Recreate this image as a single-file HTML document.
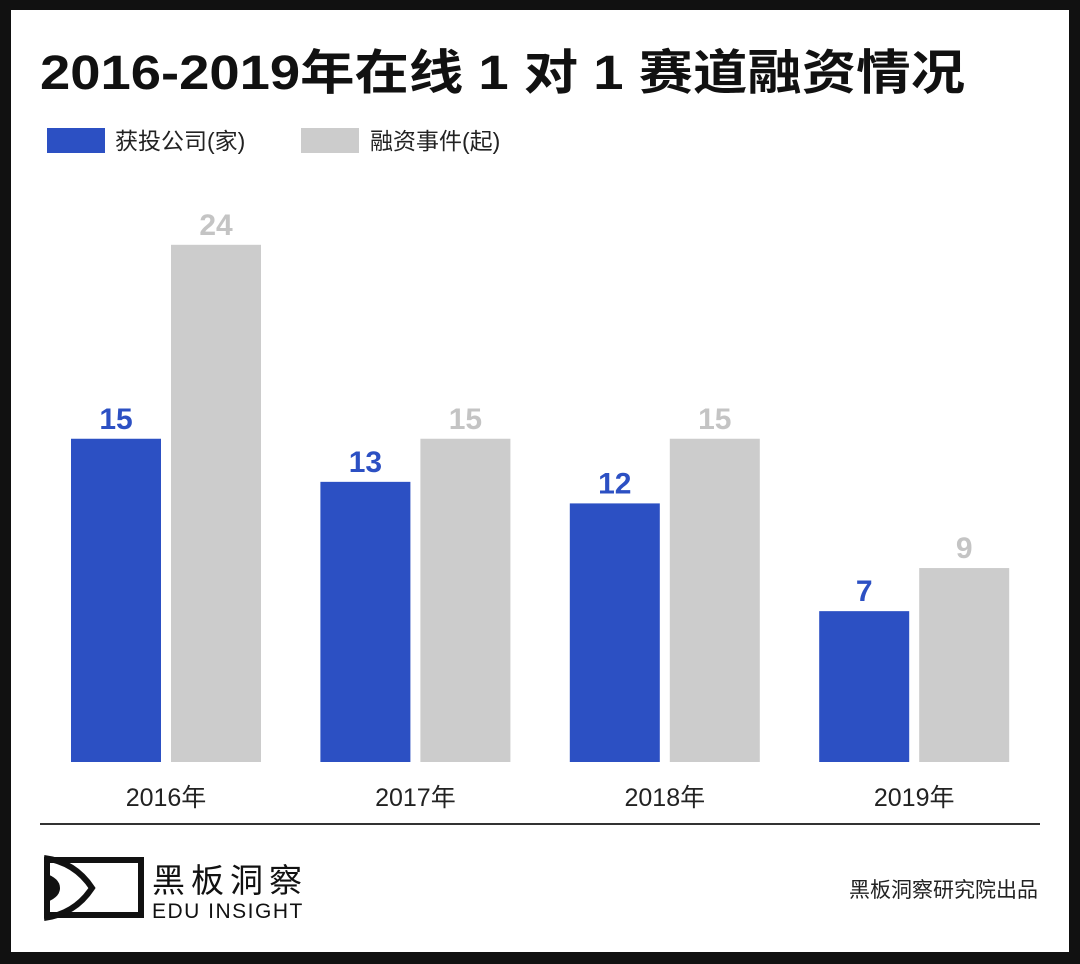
<!DOCTYPE html>
<html><head><meta charset="utf-8"><style>
body{margin:0;width:1080px;height:964px;background:#111;overflow:hidden;font-family:"Liberation Sans","Noto Sans CJK SC",sans-serif}
#card{position:absolute;left:11px;top:10px;width:1058px;height:942px;background:#fff}
</style></head><body>
<div id="card"></div>
<svg width="1080" height="964" style="position:absolute;left:0;top:0">
<text x="40" y="89" font-size="48" font-weight="bold" fill="#111" textLength="925" lengthAdjust="spacingAndGlyphs" font-family="Liberation Sans,Noto Sans CJK SC,sans-serif">2016-2019年在线 1 对 1 赛道融资情况</text>
<rect x="47" y="128" width="58" height="25" fill="#2c50c3"/>
<text x="115" y="149" font-size="23" fill="#222" font-family="Liberation Sans,Noto Sans CJK SC,sans-serif">获投公司(家)</text>
<rect x="301" y="128" width="58" height="25" fill="#cccccc"/>
<text x="370" y="149" font-size="23" fill="#222" font-family="Liberation Sans,Noto Sans CJK SC,sans-serif">融资事件(起)</text>
<g id="bars"></g>
<line x1="40" y1="824" x2="1040" y2="824" stroke="#333" stroke-width="2"/>
<g>
<rect x="47" y="860" width="94" height="55" fill="none" stroke="#111" stroke-width="6"/>
<path d="M44 858 Q75 862 92 888 Q75 914 44 918" fill="none" stroke="#111" stroke-width="6"/>
<path d="M44 873 Q60 878 60 888 Q60 898 44 903Z" fill="#111"/>
<rect x="40" y="855" width="4" height="65" fill="#fff"/>
<text x="152" y="892" font-size="33" fill="#111" letter-spacing="6" font-family="Liberation Sans,Noto Sans CJK SC,sans-serif">黑板洞察</text>
<text x="152" y="918" font-size="21" fill="#111" letter-spacing="1.5" font-family="Liberation Sans,sans-serif">EDU INSIGHT</text>
</g>
<text x="1038" y="897" font-size="21" fill="#222" text-anchor="end" font-family="Liberation Sans,Noto Sans CJK SC,sans-serif">黑板洞察研究院出品</text>
</svg>
<script>
const categories=["2016年","2017年","2018年","2019年"];
const companies=[15,13,12,7];
const events=[24,15,15,9];
const base=762,unit=21.55,g0=71,gstep=249.4,bw=90;
const y=v=>base-v*unit;
const ns="http://www.w3.org/2000/svg",G=document.getElementById('bars');
function mk(t,a){const e=document.createElementNS(ns,t);for(const k in a)e.setAttribute(k,a[k]);G.appendChild(e);return e;}
categories.forEach((c,i)=>{
 const x0=g0+i*gstep;
 [[companies[i],x0,"#2c50c3","#2c50c3","companies"],[events[i],x0+100,"#cccccc","#c4c4c4","events"]].forEach(([v,x,f,tc,n])=>{
  const r=mk('rect',{x:x,y:y(v),width:bw,height:v*unit,fill:f});
  
  
  const t=mk('text',{x:x+bw/2,y:y(v)-10,'text-anchor':'middle','font-size':30,'font-weight':'bold',fill:tc,'font-family':'Liberation Sans,sans-serif'});
  t.textContent=v;
  
  
 });
 const l=mk('text',{x:x0+95,y:806,'text-anchor':'middle','font-size':25,fill:'#222','font-family':'Liberation Sans,Noto Sans CJK SC,sans-serif'});
 l.textContent=c;
 
 
});
</script>
</body></html>
